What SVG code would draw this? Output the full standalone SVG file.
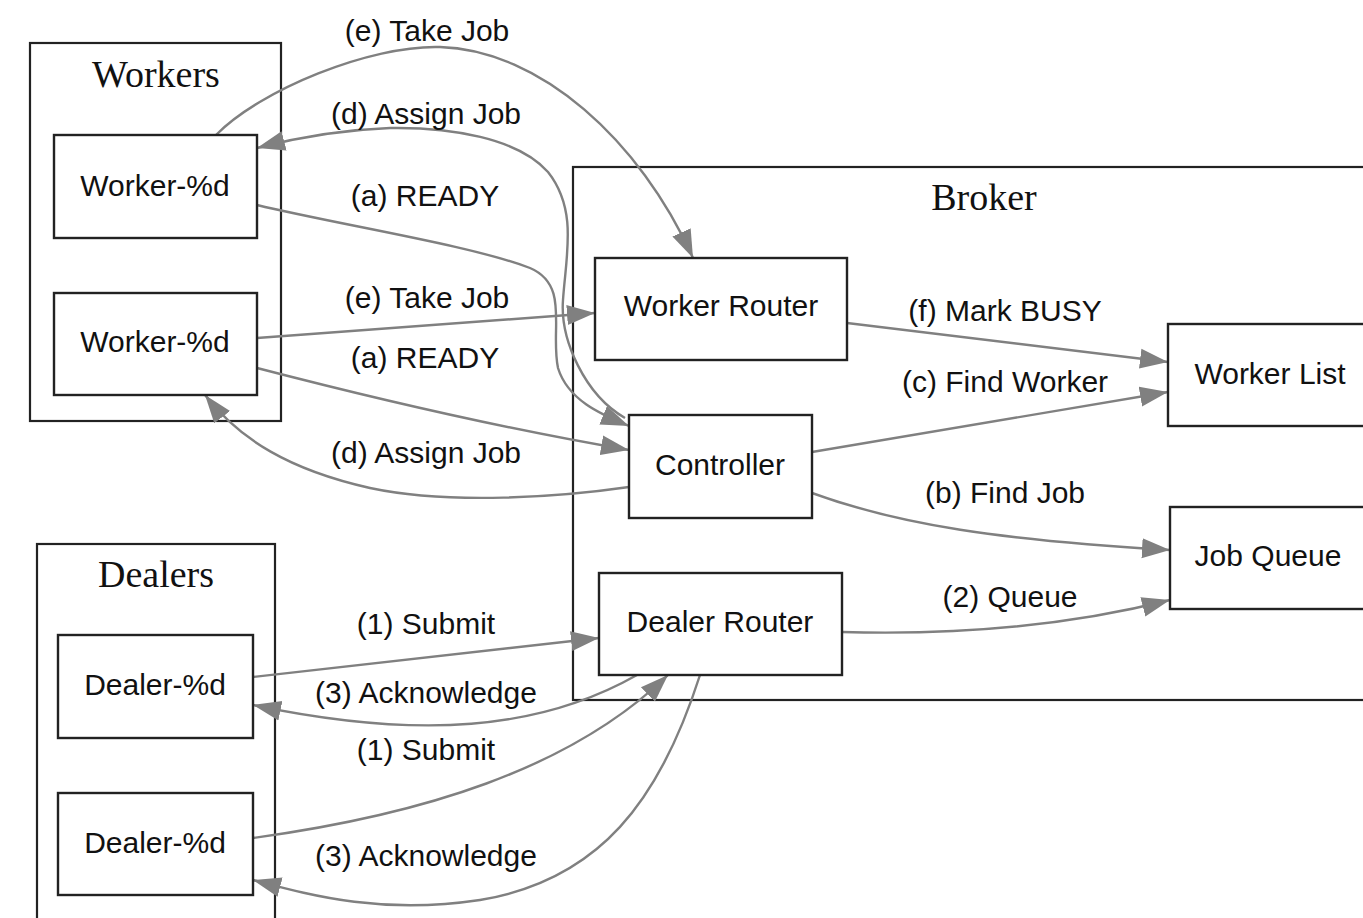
<svg xmlns="http://www.w3.org/2000/svg" width="1363" height="918" viewBox="0 0 1363 918">
<style>
.cl{fill:none;stroke:#222;stroke-width:2.2}
.nd{fill:#fff;stroke:#222;stroke-width:2.4}
.ttl{font-family:"Liberation Serif",serif;font-size:38px;fill:#111;text-anchor:middle}
.nt{font-family:"Liberation Sans",Arial,sans-serif;font-size:30px;fill:#111;text-anchor:middle}
.lb{font-family:"Liberation Sans",Arial,sans-serif;font-size:30px;fill:#111;text-anchor:middle}
.e{fill:none;stroke:#808080;stroke-width:2.4;marker-end:url(#ah)}
</style>
<defs>
<marker id="ah" markerUnits="userSpaceOnUse" markerWidth="30" markerHeight="22" refX="28" refY="11" orient="auto">
<path d="M0,1 L28,11 L0,21 z" fill="#808080"/>
</marker>
</defs>
<rect width="1363" height="918" fill="#fff"/>
<g id="cluster-workers">
<rect class="cl" x="30" y="43" width="251" height="378"/>
<text class="ttl" x="156" y="87">Workers</text>
</g>
<g id="cluster-dealers">
<rect class="cl" x="37" y="544" width="238" height="390"/>
<text class="ttl" x="156" y="587">Dealers</text>
</g>
<g id="cluster-broker">
<rect class="cl" x="573" y="167" width="810" height="533"/>
<text class="ttl" x="984" y="210">Broker</text>
</g>
<g id="connectors">
<path class="e" d="M216,135 C260,90 370,45 440,47 C540,50 640,140 693,258"/>
<path class="e" d="M625,418 C585,395 560,340 563,300 C566,255 578,210 548,172 C518,138 450,127 390,128 C335,130 295,138 257,148"/>
<path class="e" d="M257,205 C340,225 470,245 530,268 C570,285 550,330 558,368 C568,400 600,414 629,426"/>
<path class="e" d="M257,338 L595,313"/>
<path class="e" d="M257,368 C380,400 500,428 629,450"/>
<path class="e" d="M629,487 C560,497 450,505 370,488 C290,470 240,440 205,395"/>
<path class="e" d="M847,323 L1168,362"/>
<path class="e" d="M812,452 L1168,392"/>
<path class="e" d="M812,493 C900,525 1000,540 1170,550"/>
<path class="e" d="M842,632 C950,635 1060,628 1170,600"/>
<path class="e" d="M253,677 L599,638"/>
<path class="e" d="M637,675 C540,730 420,740 253,705"/>
<path class="e" d="M253,838 C420,815 570,770 668,675"/>
<path class="e" d="M700,675 C660,800 600,880 480,900 C380,915 310,895 253,880"/>
</g>
<g id="edge-labels">
<text class="lb" x="427" y="41">(e) Take Job</text>
<text class="lb" x="426" y="124">(d) Assign Job</text>
<text class="lb" x="425" y="206">(a) READY</text>
<text class="lb" x="427" y="308">(e) Take Job</text>
<text class="lb" x="425" y="368">(a) READY</text>
<text class="lb" x="426" y="463">(d) Assign Job</text>
<text class="lb" x="1005" y="321">(f) Mark BUSY</text>
<text class="lb" x="1005" y="392">(c) Find Worker</text>
<text class="lb" x="1005" y="503">(b) Find Job</text>
<text class="lb" x="1010" y="607">(2) Queue</text>
<text class="lb" x="426" y="634">(1) Submit</text>
<text class="lb" x="426" y="703">(3) Acknowledge</text>
<text class="lb" x="426" y="760">(1) Submit</text>
<text class="lb" x="426" y="866">(3) Acknowledge</text>
</g>
<g id="worker1"><rect class="nd" x="54" y="135" width="203" height="103"/><text class="nt" x="155" y="196">Worker-%d</text></g>
<g id="worker2"><rect class="nd" x="54" y="293" width="203" height="102"/><text class="nt" x="155" y="352">Worker-%d</text></g>
<g id="dealer1"><rect class="nd" x="58" y="635" width="195" height="103"/><text class="nt" x="155" y="695">Dealer-%d</text></g>
<g id="dealer2"><rect class="nd" x="58" y="793" width="195" height="102"/><text class="nt" x="155" y="853">Dealer-%d</text></g>
<g id="worker-router"><rect class="nd" x="595" y="258" width="252" height="102"/><text class="nt" x="721" y="316">Worker Router</text></g>
<g id="controller"><rect class="nd" x="629" y="415" width="183" height="103"/><text class="nt" x="720" y="475">Controller</text></g>
<g id="dealer-router"><rect class="nd" x="599" y="573" width="243" height="102"/><text class="nt" x="720" y="632">Dealer Router</text></g>
<g id="worker-list"><rect class="nd" x="1168" y="324" width="210" height="102"/><text class="nt" x="1270" y="384">Worker List</text></g>
<g id="job-queue"><rect class="nd" x="1170" y="507" width="208" height="102"/><text class="nt" x="1268" y="566">Job Queue</text></g>
</svg>
